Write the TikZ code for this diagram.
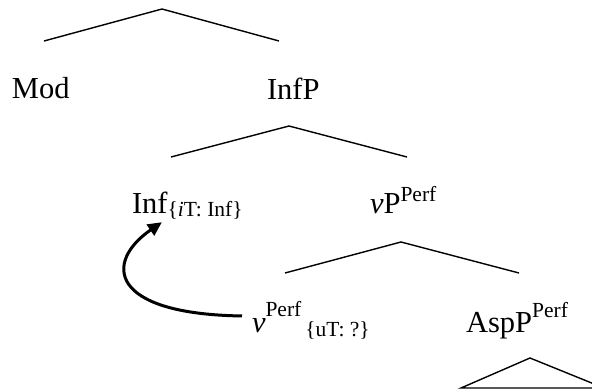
\documentclass[tikz,border=0pt]{standalone}
\usepackage{fontspec}
\setmainfont{Liberation Serif}
\usepackage{tikz}
\usetikzlibrary{arrows.meta}
\newcommand{\catsize}{\fontsize{30.5}{34}\selectfont}
\newcommand{\ft}[1]{{\fontsize{21.5}{24}\selectfont #1}}
\newcommand{\up}[2]{\raisebox{#1}{\ft{#2}}}
\tikzset{
  cat/.style={inner sep=0pt, outer sep=0pt, anchor=base west, font=\catsize},
  branch/.style={line width=1.4pt, line join=miter},
  move/.style={-{Triangle[length=14pt,width=13pt]}, line width=3pt},
}

\begin{document}
\begin{tikzpicture}[x=1pt,y=-1pt]
    \clip (0,0) rectangle (592,391);
    \node[cat] (mod) at (12,98) {Mod};
    \node[cat] (infp) at (267,99) {InfP};
    \node[cat] (inf) at (132,213) {Inf\up{-3.5pt}{\{\textit{i}T: Inf\}}};
    \node[cat] (vp) at (370,213) {\textit{v}P\up{12pt}{Perf}};
    \node[cat] (v) at (252,332) {\textit{v}\up{16pt}{Perf}\kern4pt\up{-4.5pt}{\{uT: ?\}}};
    \node[cat] (asp) at (466,332) {AspP\up{15pt}{Perf}};
    \draw[branch] (44,41) -- (162,9) -- (279,41);
    \draw[branch] (171,157) -- (289,126) -- (407,157);
    \draw[branch] (285,273) -- (401,242) -- (519,273);
    \draw[branch] (461,388) -- (530,358) -- (604,388) -- cycle;
    \draw[move, shorten <=10pt, shorten >=5pt] ([yshift=4pt]v.west) .. controls (108,314) and (104,262) .. ([xshift=34pt]inf.south west);
  \end{tikzpicture}
\end{document}
